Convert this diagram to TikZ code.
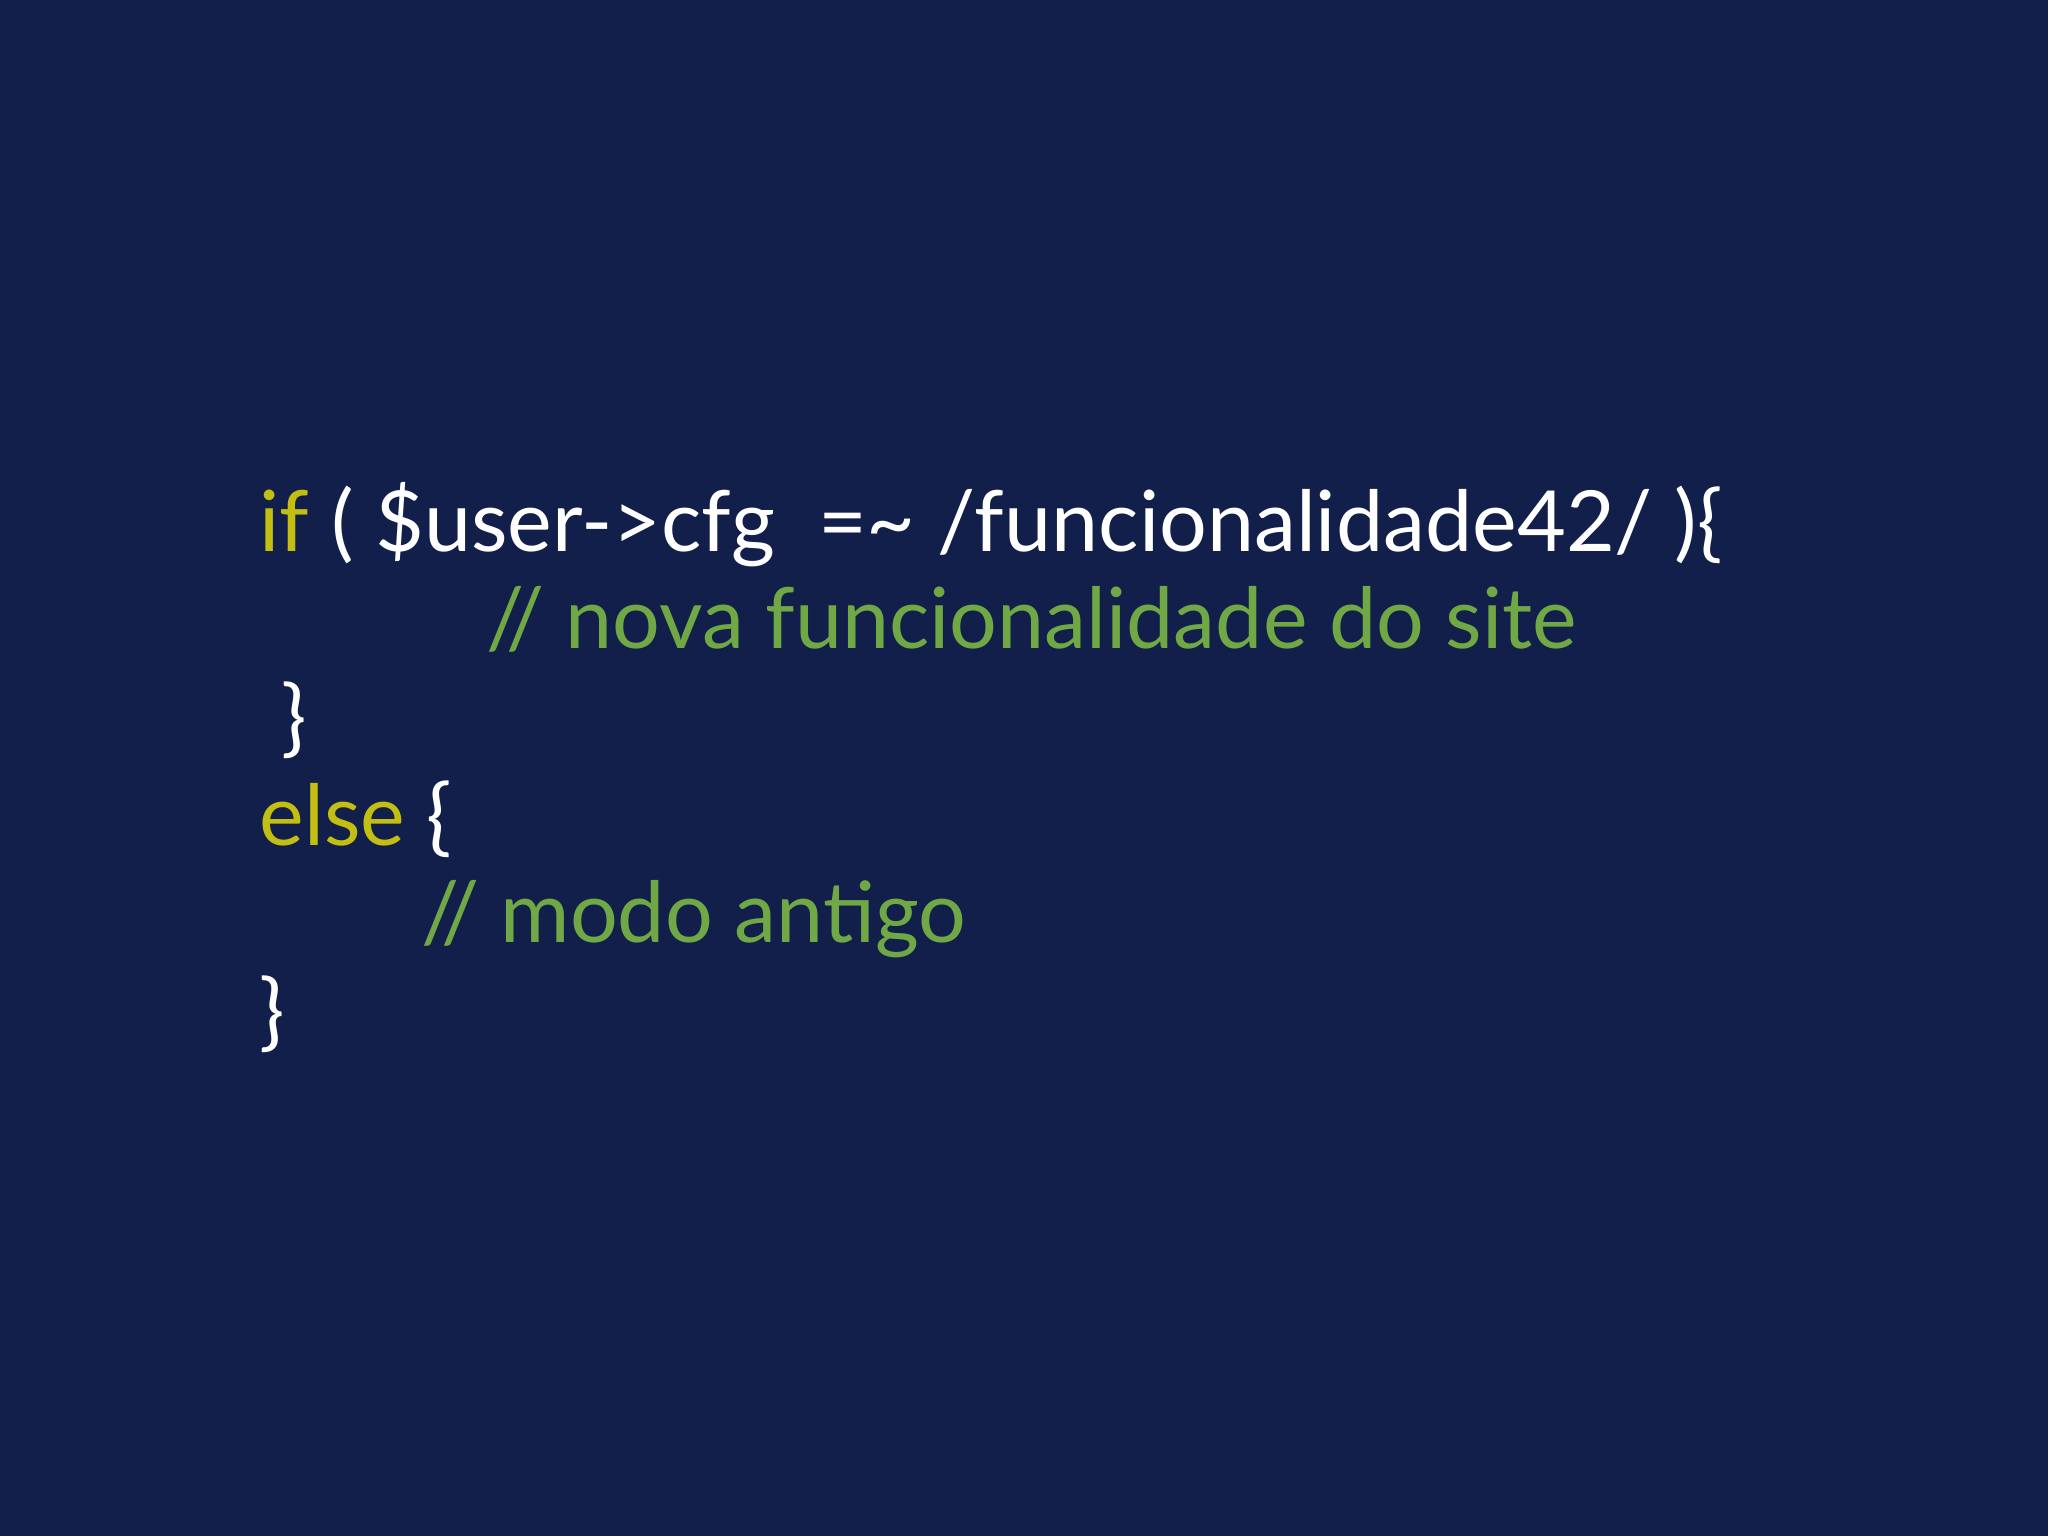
\documentclass[tikz,border=0pt]{standalone}
\usepackage{fontspec}
\setmainfont{Lato}
\definecolor{bg}{HTML}{111F4A}
\definecolor{kw}{HTML}{C2BE12}
\definecolor{cm}{HTML}{6FA845}
\begin{document}
\begin{tikzpicture}
\tikzset{code/.style={anchor=base west,inner sep=0pt,text=white,font=\fontsize{24}{28}\selectfont}}
\fill[bg] (0,0) rectangle (20.48,15.36);
\useasboundingbox (0,0) rectangle (20.48,15.36);
\node[code] (l1) at (2.59,9.84) {\textcolor{kw}{if} ( \$user->cfg\ \ =\textasciitilde{} /funcionalidade42/ )\{};
\node[code,text=cm] (l2) at (4.86,8.87) {// nova funcionalidade do site};
\node[code] (l3) at (2.81,7.89) {\}};
\node[code] (l4) at (2.59,6.90) {\textcolor{kw}{else} \{};
\node[code,text=cm] (l5) at (4.21,5.93) {// modo antigo};
\node[code] (l6) at (2.59,4.95) {\}};
\end{tikzpicture}
\end{document}
